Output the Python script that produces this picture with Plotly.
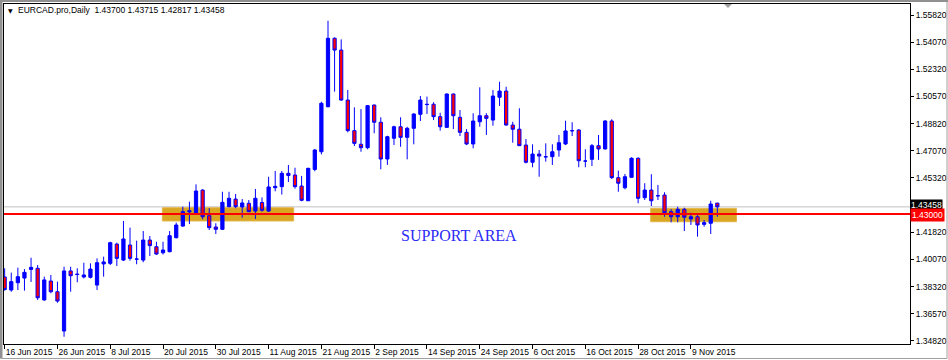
import plotly.graph_objects as go

# ---------------- data ----------------
tick_labels = ["16 Jun 2015", "26 Jun 2015", "8 Jul 2015", "20 Jul 2015", "30 Jul 2015",
               "11 Aug 2015", "21 Aug 2015", "2 Sep 2015", "14 Sep 2015", "24 Sep 2015",
               "6 Oct 2015", "16 Oct 2015", "28 Oct 2015", "9 Nov 2015"]
tick_bars = [0, 8, 16, 24, 32, 40, 48, 56, 64, 72, 80, 88, 96, 104]

open_ = [1.3894, 1.3810, 1.3857, 1.3887, 1.3943, 1.3950, 1.3746, 1.3868, 1.3799, 1.3546,
         1.3933, 1.3913, 1.3894, 1.3892, 1.3842, 1.3978, 1.3982, 1.4106, 1.4003, 1.4100,
         1.4010, 1.4003, 1.4132, 1.4089, 1.4050, 1.4057, 1.4147, 1.4222, 1.4313, 1.4304,
         1.4454, 1.4289, 1.4216, 1.4201, 1.4347, 1.4396, 1.4345, 1.4369, 1.4319, 1.4374,
         1.4319, 1.4469, 1.4476, 1.4562, 1.4551, 1.4480, 1.4385, 1.4587, 1.4701, 1.4991,
         1.5432, 1.5356, 1.5034, 1.4837, 1.4749, 1.4727, 1.5002, 1.4891, 1.4654, 1.4788,
         1.4862, 1.4794, 1.4852, 1.4942, 1.5007, 1.5007, 1.4927, 1.4858, 1.5073, 1.4923,
         1.4826, 1.4751, 1.4894, 1.4933, 1.4905, 1.5052, 1.5092, 1.4873, 1.4846, 1.4744,
         1.4633, 1.4686, 1.4669, 1.4669, 1.4712, 1.4751, 1.4837, 1.4841, 1.4641, 1.4652,
         1.4740, 1.4719, 1.4899, 1.4534, 1.4469, 1.4536, 1.4659, 1.4405, 1.4454, 1.4418,
         1.4422, 1.4315, 1.4282, 1.4330, 1.4268, 1.4282, 1.4233, 1.4240, 1.43700]
high = [1.3950, 1.3922, 1.3954, 1.3945, 1.4018, 1.3971, 1.3896, 1.3907, 1.3864, 1.3960,
        1.3960, 1.3950, 1.3986, 1.3982, 1.4014, 1.4025, 1.4121, 1.4115, 1.4255, 1.4212,
        1.4128, 1.4190, 1.4158, 1.4121, 1.4121, 1.4190, 1.4244, 1.4347, 1.4379, 1.4491,
        1.4459, 1.4337, 1.4240, 1.4443, 1.4443, 1.4429, 1.4396, 1.4390, 1.4461, 1.4407,
        1.4540, 1.4577, 1.4577, 1.4616, 1.4598, 1.4545, 1.4598, 1.4719, 1.5023, 1.5545,
        1.5438, 1.5425, 1.5099, 1.4987, 1.4976, 1.5002, 1.5005, 1.4923, 1.4804, 1.4869,
        1.4923, 1.4862, 1.4949, 1.5060, 1.5056, 1.5020, 1.4952, 1.5077, 1.5076, 1.4970,
        1.4847, 1.4949, 1.5116, 1.4949, 1.5099, 1.5152, 1.5120, 1.4894, 1.4981, 1.4783,
        1.4749, 1.4712, 1.4755, 1.4749, 1.4809, 1.4901, 1.4891, 1.4846, 1.4717, 1.4751,
        1.4809, 1.4905, 1.4910, 1.4579, 1.4558, 1.4665, 1.4665, 1.4498, 1.4556, 1.4487,
        1.4440, 1.4332, 1.4347, 1.4340, 1.4308, 1.4293, 1.4261, 1.4385, 1.43715]
low = [1.3806, 1.3799, 1.3810, 1.3806, 1.3862, 1.3746, 1.3741, 1.3789, 1.3728, 1.3509,
       1.3799, 1.3860, 1.3885, 1.3885, 1.3810, 1.3896, 1.3971, 1.3965, 1.3997, 1.3999,
       1.3976, 1.3989, 1.4029, 1.4036, 1.4039, 1.4053, 1.4143, 1.4218, 1.4235, 1.4300,
       1.4266, 1.4197, 1.4171, 1.4197, 1.4343, 1.4337, 1.4276, 1.4311, 1.4268, 1.4315,
       1.4313, 1.4446, 1.4425, 1.4506, 1.4463, 1.4382, 1.4384, 1.4575, 1.4684, 1.4987,
       1.5088, 1.5030, 1.4826, 1.4738, 1.4701, 1.4717, 1.4820, 1.4588, 1.4616, 1.4744,
       1.4733, 1.4652, 1.4749, 1.4899, 1.4944, 1.4905, 1.4837, 1.4854, 1.4847, 1.4802,
       1.4744, 1.4723, 1.4862, 1.4809, 1.4869, 1.4996, 1.4869, 1.4759, 1.4738, 1.4626,
       1.4601, 1.4540, 1.4637, 1.4616, 1.4669, 1.4744, 1.4802, 1.4601, 1.4601, 1.4609,
       1.4648, 1.4715, 1.4525, 1.4443, 1.4459, 1.4534, 1.4369, 1.4390, 1.4351, 1.4390,
       1.4282, 1.4246, 1.4246, 1.4190, 1.4229, 1.4154, 1.4218, 1.4171, 1.42817]
close = [1.3813, 1.3864, 1.3896, 1.3924, 1.3956, 1.3760, 1.3875, 1.3799, 1.3739, 1.3933,
         1.3902, 1.3910, 1.3907, 1.3945, 1.3986, 1.3991, 1.4115, 1.4014, 1.4139, 1.4014,
         1.4009, 1.4132, 1.4096, 1.4042, 1.4068, 1.4160, 1.4229, 1.4315, 1.4321, 1.4448,
         1.4282, 1.4212, 1.4201, 1.4375, 1.4401, 1.4347, 1.4371, 1.4315, 1.4401, 1.4324,
         1.4474, 1.4478, 1.4562, 1.4548, 1.4476, 1.4388, 1.4594, 1.4712, 1.5013, 1.5432,
         1.5356, 1.5034, 1.4837, 1.4755, 1.4727, 1.4998, 1.4891, 1.4654, 1.4798, 1.4862,
         1.4794, 1.4852, 1.4944, 1.5034, 1.5005, 1.4927, 1.4862, 1.5073, 1.4933, 1.4826,
         1.4751, 1.4899, 1.4933, 1.4916, 1.5060, 1.5092, 1.4873, 1.4846, 1.4740, 1.4633,
         1.4686, 1.4673, 1.4668, 1.4701, 1.4759, 1.4835, 1.4836, 1.4643, 1.4641, 1.4740,
         1.4719, 1.4899, 1.4534, 1.4498, 1.4540, 1.4659, 1.4401, 1.4454, 1.4385, 1.4417,
         1.4308, 1.4282, 1.4330, 1.4279, 1.4282, 1.4229, 1.4244, 1.4364, 1.43458]

price_ticks = [1.5582, 1.5407, 1.5232, 1.5057, 1.4882, 1.4707, 1.4532,
               1.4182, 1.4007, 1.3832, 1.3657, 1.3482]
support_level = 1.43000
zone1 = dict(x0=23.9, x1=43.8, y0=1.4255, y1=1.4340)
zone2 = dict(x0=97.9, x1=110.9, y0=1.4250, y1=1.4336)
label_text = "SUPPORT AREA"
label_pos = (68.9, 1.4161)
header = "EURCAD.pro,Daily\u00a0\u00a01.43700 1.43715 1.42817 1.43458"

# ---------------- figure ----------------
W, H = 948, 360
ML, MR, MT, MB = 4, 38, 4, 16
PW, PH = W - ML - MR, H - MT - MB


def px(xp):
    return (xp - ML) / PW


def py(yp):
    return (H - MB - yp) / PH


AX_FONT = dict(family="Liberation Sans Narrow, Arial Narrow, Liberation Sans, Arial", size=8.5, color="#000000")

x = list(range(len(open_)))
fig = go.Figure()
fig.add_trace(go.Candlestick(
    x=x, open=open_, high=high, low=low, close=close,
    increasing=dict(line=dict(color="#0000FF", width=1), fillcolor="#0000FF"),
    decreasing=dict(line=dict(color="#0000FF", width=1), fillcolor="#FF0000"),
    whiskerwidth=0, hoverinfo="skip", showlegend=False))

shapes = []
for z in (zone1, zone2):
    shapes.append(dict(type="rect", xref="x", yref="y", x0=z["x0"], x1=z["x1"], y0=z["y0"], y1=z["y1"],
                       fillcolor="#DAA520", line=dict(color="#E3B54A", width=1), layer="below"))
shapes.append(dict(type="line", xref="paper", yref="y", x0=0, x1=1, y0=close[-1], y1=close[-1],
                   line=dict(color="#C0C0C0", width=1), layer="below"))
shapes.append(dict(type="line", xref="paper", yref="y", x0=0, x1=1, y0=support_level, y1=support_level,
                   line=dict(color="#FF0000", width=2), layer="above"))
# window frame
shapes.append(dict(type="rect", xref="paper", yref="paper", x0=px(0.5), x1=px(947), y0=py(358.5), y1=py(0.5),
                   line=dict(color="#A0A0A0", width=1), fillcolor="rgba(0,0,0,0)"))
shapes.append(dict(type="rect", xref="paper", yref="paper", x0=px(0), x1=px(2.5), y0=py(358), y1=py(0),
                   line=dict(width=0), fillcolor="#909090"))
shapes.append(dict(type="rect", xref="paper", yref="paper", x0=px(0), x1=px(948), y0=py(2), y1=py(0),
                   line=dict(width=0), fillcolor="#909090"))
# chart shift marker
shapes.append(dict(type="path", xref="paper", yref="paper",
                   path="M %f,%f L %f,%f L %f,%f Z" % (px(724), py(4), px(732), py(4), px(728), py(8)),
                   fillcolor="#A0A0A0", line=dict(width=0)))

annotations = [
    dict(x=label_pos[0], y=label_pos[1], xref="x", yref="y", text=label_text, showarrow=False,
         font=dict(family="Liberation Serif, Times New Roman, serif", size=16, color="#2A2AF5")),
    dict(x=1, y=close[-1], xref="paper", yref="y", xanchor="left", yanchor="middle", text="1.43458",
         showarrow=False, bgcolor="#000000", font=dict(AX_FONT, color="#FFFFFF"), borderpad=0, yshift=2),
    dict(x=1, y=support_level, xref="paper", yref="y", xanchor="left", yanchor="middle", text="1.43000",
         showarrow=False, bgcolor="#FF0000", font=dict(AX_FONT, color="#FFFFFF"), borderpad=1, yshift=-1),
    dict(x=px(6), y=py(10), xref="paper", yref="paper", xanchor="left", yanchor="middle",
         text="\u25BC", showarrow=False, font=dict(family="DejaVu Sans", size=6, color="#000000")),
    dict(x=px(16), y=py(10), xref="paper", yref="paper", xanchor="left", yanchor="middle",
         text=header, showarrow=False, font=AX_FONT),
]

fig.update_layout(
    width=W, height=H, margin=dict(l=ML, r=MR, t=MT, b=MB, autoexpand=False),
    paper_bgcolor="#FFFFFF", plot_bgcolor="#FFFFFF",
    shapes=shapes, annotations=annotations, showlegend=False,
    xaxis=dict(range=[-0.1, 137.2], rangeslider=dict(visible=False), showgrid=False, zeroline=False,
               tickmode="array", tickvals=tick_bars, ticktext=tick_labels, tickangle=0, automargin=False,
               ticks="outside", ticklen=4, tickcolor="#000000", ticklabelposition="outside right",
               tickfont=AX_FONT, showline=True, linecolor="#000000", linewidth=1, mirror=True),
    yaxis=dict(range=[1.34622, 1.56529], side="right", showgrid=False, zeroline=False, automargin=False,
               tickmode="array", tickvals=price_ticks, tickformat=".5f",
               ticks="outside", ticklen=3, tickcolor="#000000", tickfont=AX_FONT,
               showline=True, linecolor="#000000", linewidth=1, mirror=True),
)

fig.write_html("out.html")
